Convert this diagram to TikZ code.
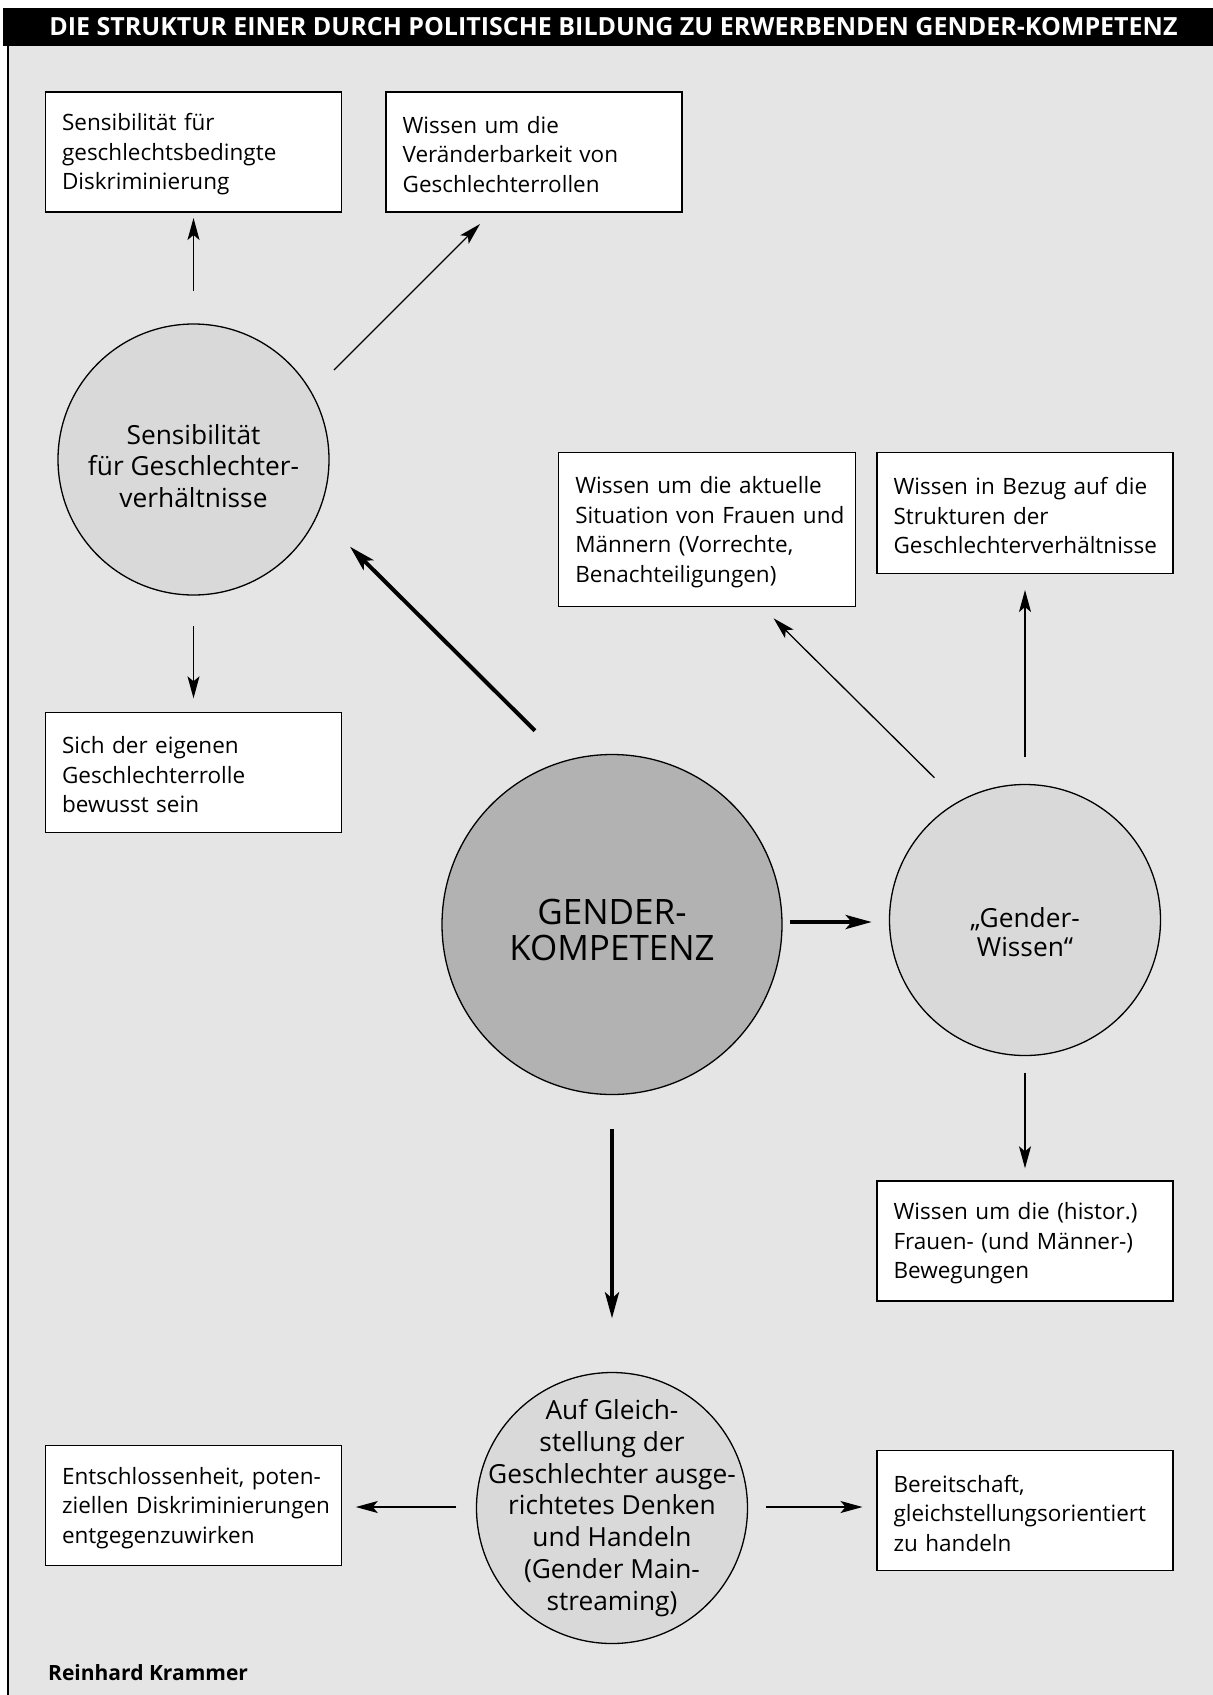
\documentclass[tikz,border=0pt]{standalone}
\usepackage{fontspec}
\setmainfont{Open Sans}
\usetikzlibrary{arrows.meta}
\definecolor{bg}{HTML}{E5E5E5}
\definecolor{lightc}{HTML}{D9D9D9}
\definecolor{darkc}{HTML}{B2B2B2}
\begin{document}
\begin{tikzpicture}[x=1pt,y=-1pt,
  boxframe/.style={draw=black, line width=1.3pt, fill=white, minimum width=296pt,
    minimum height=120pt, inner sep=0pt},
  boxtext/.style={anchor=west, text width=275pt, inner sep=0pt, align=left,
    font=\fontsize{22.5}{29.5}\selectfont},
  smallcirc/.style={circle, draw=black, line width=1.3pt, fill=lightc,
    minimum size=271pt, inner sep=0pt},
  bigcirc/.style={circle, draw=black, line width=1.3pt, fill=darkc,
    minimum size=340pt, inner sep=0pt},
  circtext/.style={inner sep=0pt, align=center, font=\fontsize{26.3}{31.7}\selectfont},
  bigtext/.style={inner sep=0pt, align=center, font=\fontsize{35}{36.6}\selectfont},
  thinarr/.style={line width=1.3pt, -{Stealth[length=22pt,width=12pt,inset=5pt]}},
  thickarr/.style={line width=4pt, -{Stealth[length=26pt,width=14pt,inset=6pt]}}
]
\useasboundingbox (0,0) rectangle (1213,1695);
\fill[white] (0,0) rectangle (1213,1695);
\fill[bg] (8,45.7) rectangle (1213,1695);
\fill[black] (3,8.3) rectangle (1213,45.7);
\draw[line width=1.5pt] (8,45.7) -- (8,1695);
\node[inner sep=0pt, text=white, font=\fontsize{25}{28}\selectfont\bfseries] (title) at (613.5,27)
  {DIE STRUKTUR EINER DURCH POLITISCHE BILDUNG ZU ERWERBENDEN GENDER-KOMPETENZ};

% boxes
\node[boxframe] (A) at (193.5,152) {};
\node[boxtext] (At) at ([xshift=17pt,yshift=-2.2pt]A.west) {Sensibilität für\\geschlechtsbedingte\\Diskriminierung};
\node[boxframe] (B) at (534.1,152) {};
\node[boxtext] (Bt) at ([xshift=17pt,yshift=-2.2pt]B.west) {Wissen um die\\Veränderbarkeit von\\Geschlechterrollen};
\node[boxframe] (C) at (193.5,772.5) {};
\node[boxtext] (Ct) at ([xshift=17pt,yshift=-2.2pt]C.west) {Sich der eigenen\\Geschlechterrolle\\bewusst sein};
\node[boxframe, minimum width=297pt, minimum height=154pt] (D) at (707.3,529.7) {};
\node[boxtext] (Dt) at ([xshift=17pt,yshift=-2.2pt]D.west) {Wissen um die aktuelle\\Situation von Frauen und\\Männern (Vorrechte,\\Benachteiligungen)};
\node[boxframe, minimum height=121pt] (E) at (1025,513.3) {};
\node[boxtext] (Et) at ([xshift=17pt,yshift=-2.2pt]E.west) {Wissen in Bezug auf die\\Strukturen der\\Geschlechterverhältnisse};
\node[boxframe] (F) at (1025,1241) {};
\node[boxtext] (Ft) at ([xshift=17pt,yshift=-2.2pt]F.west) {Wissen um die (histor.)\\Frauen- (und Männer-)\\Bewegungen};
\node[boxframe] (H) at (193.5,1505.5) {};
\node[boxtext] (Ht) at ([xshift=17pt,yshift=-2.2pt]H.west) {Entschlossenheit, poten-\\ziellen Diskriminierungen\\entgegenzuwirken};
\node[boxframe] (I) at (1025,1510.8) {};
\node[boxtext] (It) at ([xshift=17pt,yshift=-2.2pt]I.west) {Bereitschaft,\\gleichstellungsorientiert\\zu handeln};

% circles
\node[smallcirc] (S) at (193.5,459.5) {};
\node[circtext] (St) at ([yshift=-6.5pt]S.center) {Sensibilität\\für Geschlechter-\\verhältnisse};
\node[bigcirc] (G) at (612,924.5) {};
\node[bigtext] (Gt) at ([yshift=-5.4pt]G.center) {GENDER-\\KOMPETENZ};
\node[smallcirc] (W) at (1025,920) {};
\node[circtext, font=\fontsize{26.3}{29.5}\selectfont] (Wt) at ([yshift=-12pt]W.center) {„Gender-\\Wissen“};
\node[smallcirc] (M) at (612,1508) {};
\node[circtext] (Mt) at (M.center) {Auf Gleich-\\stellung der\\Geschlechter ausge-\\richtetes Denken\\und Handeln\\(Gender Main-\\streaming)};

\node[anchor=west, inner sep=0pt, font=\fontsize{21}{25}\selectfont\bfseries] (author) at (48,1672.7) {Reinhard Krammer};

% connector end points
\coordinate (sa1) at (193.5,290.7); \coordinate (sa2) at (193.5,218);
\coordinate (sb1) at (334,370);     \coordinate (sb2) at (480,224);
\coordinate (sc1) at (193.5,626);   \coordinate (sc2) at (193.5,698.3);
\coordinate (gs1) at (535,730.7);   \coordinate (gs2) at (350,546.7);
\coordinate (gw1) at (790,922);     \coordinate (gw2) at (871.7,922);
\coordinate (wd1) at (934.4,777.7); \coordinate (wd2) at (773.6,618.3);
\coordinate (we1) at (1025,757.3);  \coordinate (we2) at (1025,590);
\coordinate (wf1) at (1025,1072.7); \coordinate (wf2) at (1025,1168.3);
\coordinate (gm1) at (612,1129.3);  \coordinate (gm2) at (612,1318.3);
\coordinate (mh1) at (456.4,1507);  \coordinate (mh2) at (355.8,1507);
\coordinate (mi1) at (765.8,1507);  \coordinate (mi2) at (862.5,1507);

\draw[thinarr] (sa1) -- (sa2);
\draw[thinarr] (sb1) -- (sb2);
\draw[thinarr] (sc1) -- (sc2);
\draw[thickarr] (gs1) -- (gs2);
\draw[thickarr] (gw1) -- (gw2);
\draw[thinarr] (wd1) -- (wd2);
\draw[thinarr] (we1) -- (we2);
\draw[thinarr] (wf1) -- (wf2);
\draw[thickarr] (gm1) -- (gm2);
\draw[thinarr] (mh1) -- (mh2);
\draw[thinarr] (mi1) -- (mi2);
\end{tikzpicture}
\end{document}
